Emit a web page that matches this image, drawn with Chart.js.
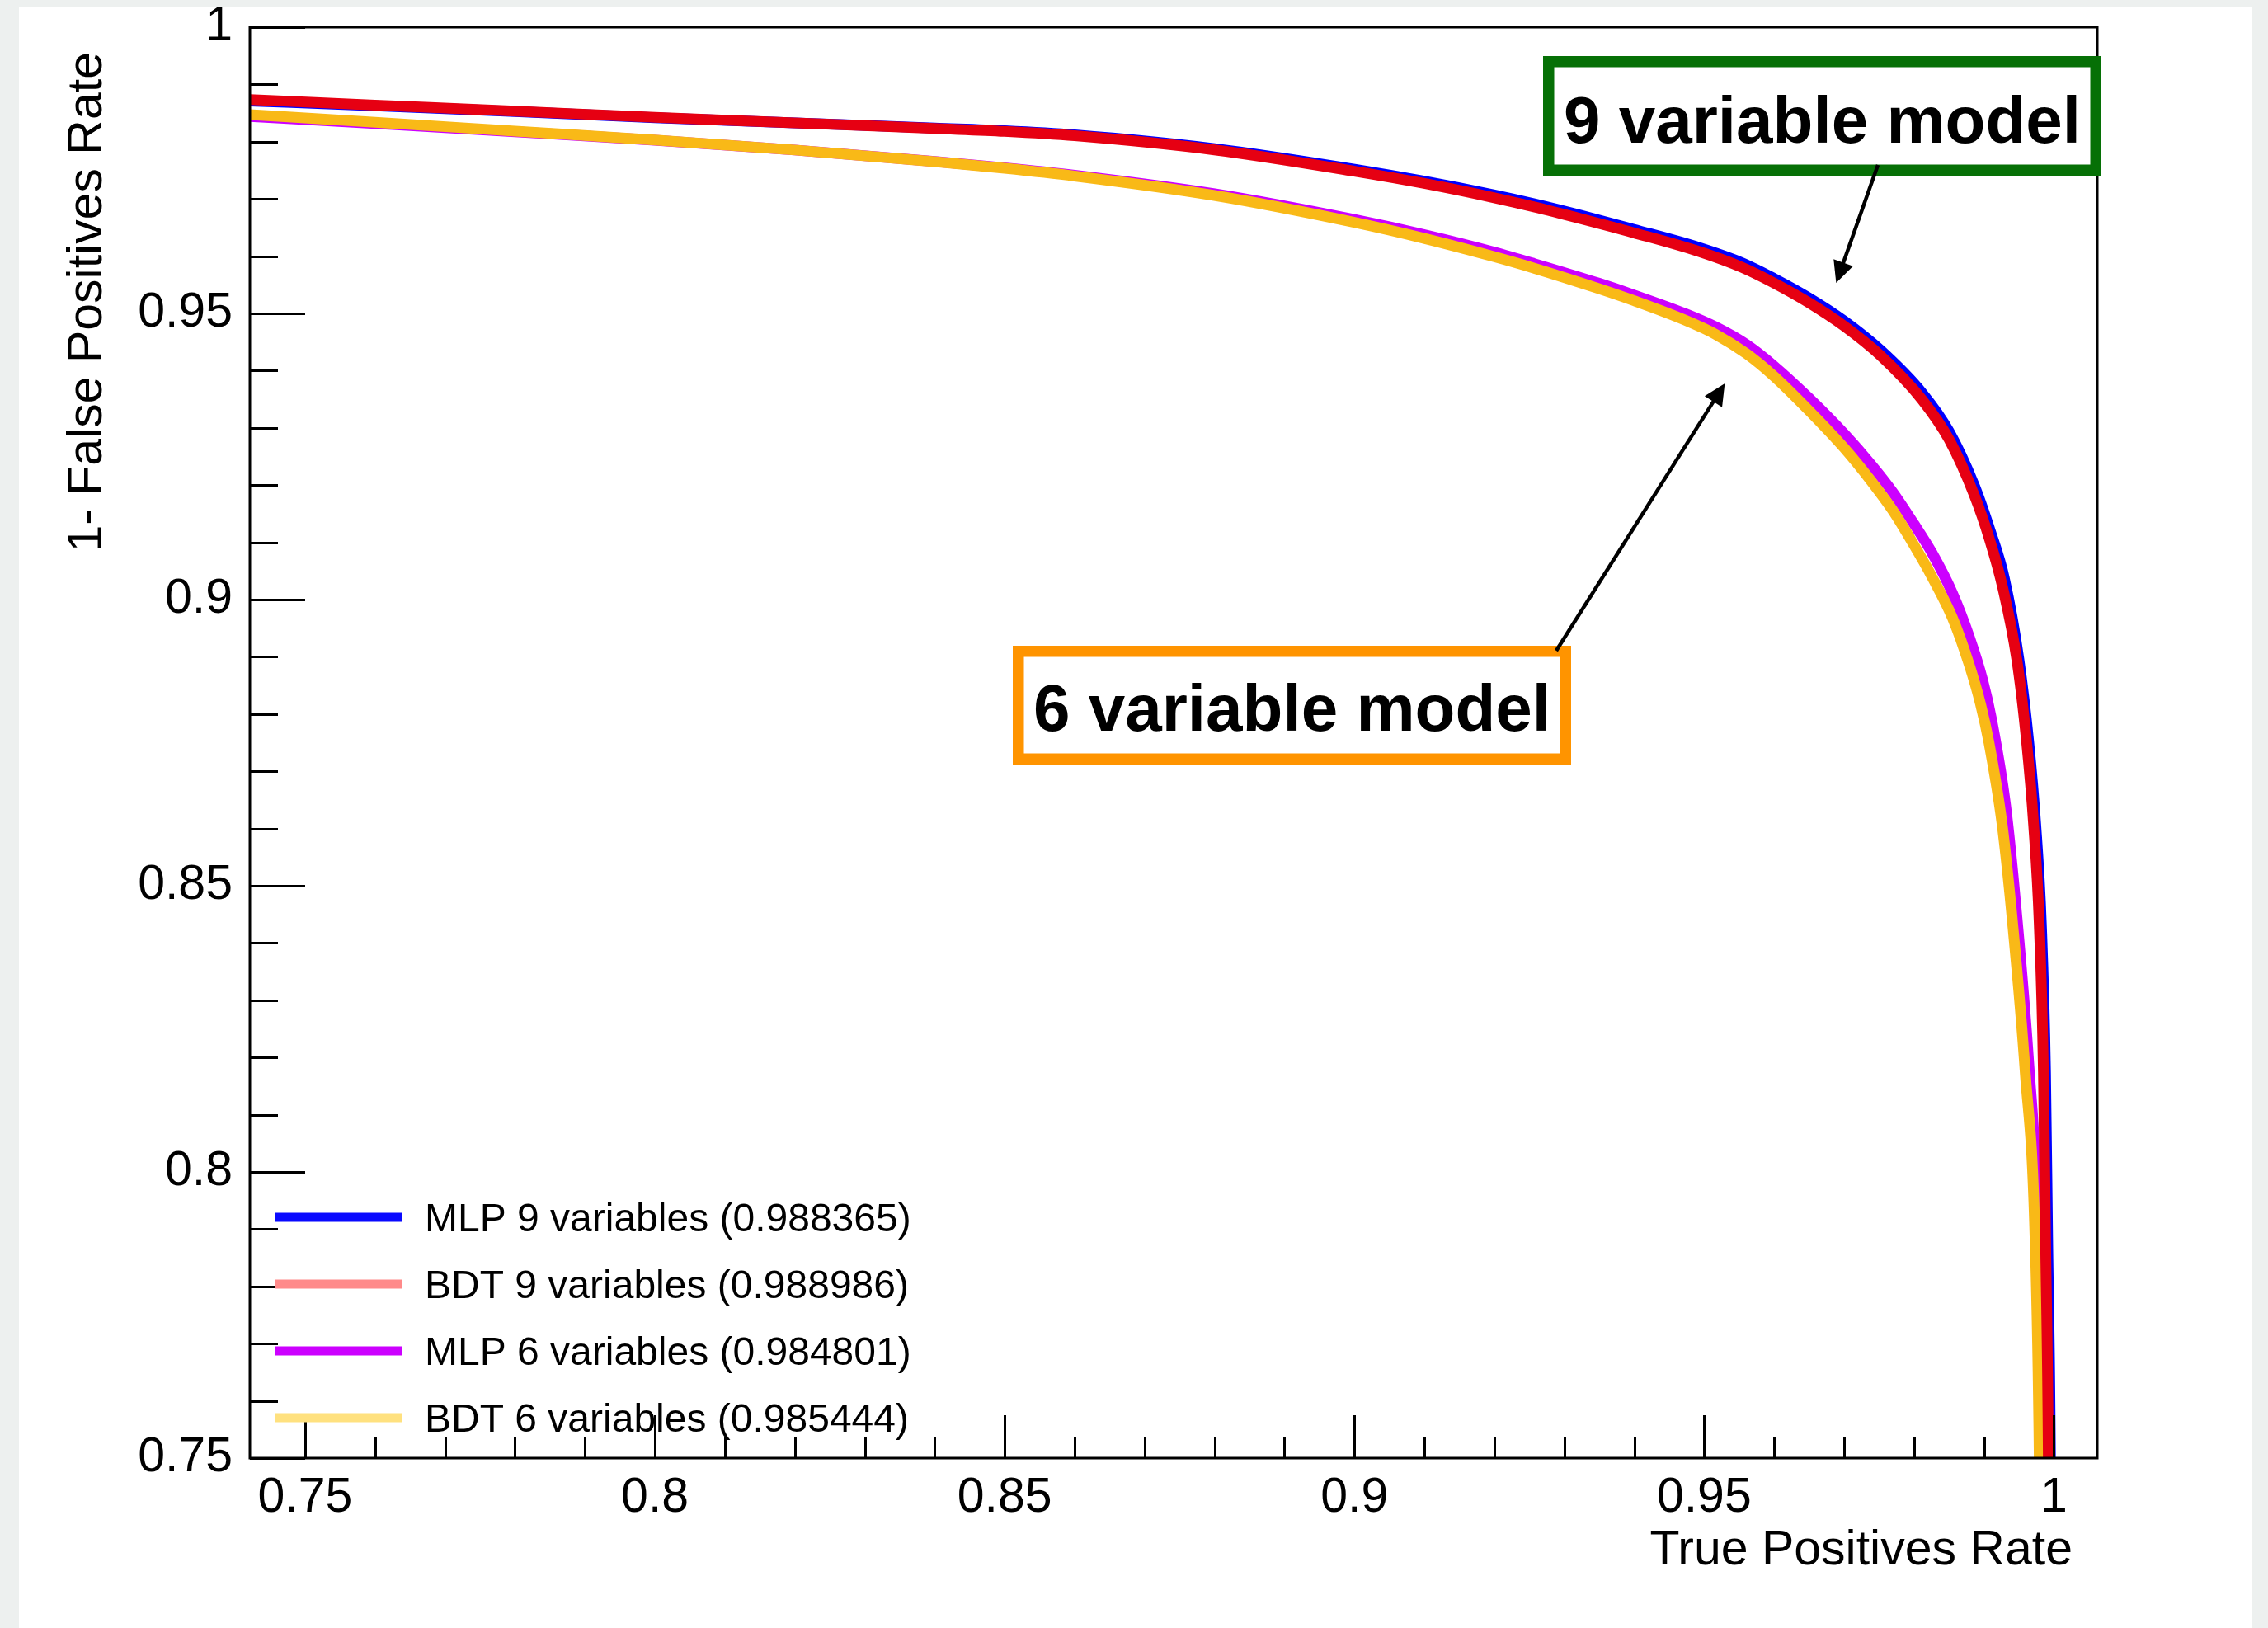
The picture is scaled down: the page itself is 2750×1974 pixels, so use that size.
<!DOCTYPE html>
<html>
<head>
<meta charset="utf-8">
<title>ROC curves</title>
<script src="https://cdn.jsdelivr.net/npm/chart.js@4.4.1/dist/chart.umd.min.js"></script>
<style>
  html, body { margin: 0; padding: 0; background: #edf0ef; }
  canvas { display: block; }
</style>
</head>
<body>
<canvas id="roc" width="2750" height="1974"></canvas>
<script>
// Axis ticks
const xTickValues = [0.75, 0.8, 0.85, 0.9, 0.95, 1];
const xTickLabels = ['0.75', '0.8', '0.85', '0.9', '0.95', '1'];
const yTickValues = [0.75, 0.8, 0.85, 0.9, 0.95, 1];
const yTickLabels = ['0.75', '0.8', '0.85', '0.9', '0.95', '1'];

// Series names (with ROC integral) and legend swatch colours
const seriesNames = [
  'MLP 9 variables (0.988365)',
  'BDT 9 variables (0.988986)',
  'MLP 6 variables (0.984801)',
  'BDT 6 variables (0.985444)'
];
const lineColors   = ['#0000ff', '#e60012', '#cc00ff', '#f9b917'];
const legendColors = ['#0a0aff', '#ff8a8a', '#cc00ff', '#ffe17f'];

// MLP, 9 input variables: true positive rate vs 1 - false positive rate
const mlp9Tpr = [0.7421, 0.76, 0.78, 0.80, 0.82, 0.84, 0.85, 0.86, 0.88, 0.90, 0.91, 0.92, 0.9257, 0.9325, 0.9399, 0.9493, 0.9555, 0.9600, 0.9650, 0.9700, 0.9752, 0.9811, 0.9850, 0.9886, 0.9909, 0.9929, 0.9950, 0.9964, 0.9974, 0.9982, 0.9988, 0.9991, 0.9995, 0.9997];
const mlp9Rej = [0.98712, 0.98628, 0.98528, 0.98420, 0.98330, 0.98238, 0.98192, 0.98120, 0.97880, 0.97520, 0.97310, 0.97070, 0.96915, 0.96710, 0.96470, 0.96150, 0.95880, 0.95610, 0.95270, 0.94870, 0.94360, 0.93620, 0.92940, 0.92000, 0.91200, 0.90380, 0.88950, 0.87510, 0.86070, 0.84340, 0.81740, 0.78860, 0.75000, 0.70000];

// BDT, 9 input variables
const bdt9Tpr = [0.7421, 0.76, 0.78, 0.80, 0.82, 0.84, 0.85, 0.86, 0.88, 0.90, 0.91, 0.92, 0.9257, 0.9325, 0.9399, 0.9493, 0.9555, 0.9600, 0.9650, 0.9700, 0.9752, 0.9811, 0.9850, 0.9886, 0.9908, 0.9927, 0.9947, 0.9961, 0.9971, 0.9979, 0.9985, 0.9988, 0.9992, 0.9994];
const bdt9Rej = [0.98735, 0.98640, 0.98535, 0.98425, 0.98330, 0.98230, 0.98180, 0.98104, 0.97857, 0.97484, 0.97270, 0.97020, 0.96860, 0.96650, 0.96410, 0.96080, 0.95800, 0.95530, 0.95185, 0.94780, 0.94265, 0.93500, 0.92800, 0.91830, 0.91050, 0.90200, 0.88950, 0.87510, 0.86070, 0.84340, 0.81740, 0.78860, 0.75000, 0.70000];

// MLP, 6 input variables
const mlp6Tpr = [0.7421, 0.76, 0.78, 0.80, 0.82, 0.84, 0.85, 0.86, 0.88, 0.90, 0.91, 0.92, 0.9257, 0.9350, 0.9400, 0.9473, 0.9517, 0.9560, 0.9600, 0.9650, 0.9700, 0.9740, 0.9770, 0.9800, 0.9826, 0.9855, 0.9879, 0.9898, 0.9911, 0.9931, 0.9946, 0.9964, 0.9978, 0.9985, 0.9988];
const mlp6Rej = [0.98440, 0.98318, 0.98175, 0.98025, 0.97855, 0.97655, 0.97545, 0.97415, 0.97090, 0.96640, 0.96375, 0.96070, 0.95870, 0.95525, 0.95320, 0.94995, 0.94760, 0.94460, 0.94080, 0.93520, 0.92900, 0.92340, 0.91870, 0.91320, 0.90810, 0.90110, 0.89350, 0.88600, 0.87900, 0.86400, 0.84600, 0.81900, 0.78860, 0.75000, 0.70000];

// BDT, 6 input variables
const bdt6Tpr = [0.7421, 0.76, 0.78, 0.80, 0.82, 0.84, 0.85, 0.86, 0.88, 0.90, 0.91, 0.92, 0.9257, 0.9350, 0.9400, 0.9473, 0.9517, 0.9560, 0.9600, 0.9650, 0.9700, 0.9740, 0.9770, 0.9800, 0.9826, 0.9855, 0.9879, 0.9895, 0.9907, 0.9926, 0.9941, 0.9959, 0.9973, 0.9979, 0.9982];
const bdt6Rej = [0.98473, 0.98340, 0.98185, 0.98030, 0.97855, 0.97650, 0.97535, 0.97400, 0.97060, 0.96590, 0.96310, 0.95990, 0.95790, 0.95430, 0.95220, 0.94880, 0.94630, 0.94300, 0.93900, 0.93300, 0.92650, 0.92050, 0.91550, 0.90950, 0.90390, 0.89680, 0.88860, 0.88180, 0.87510, 0.86070, 0.84340, 0.81740, 0.78860, 0.75000, 0.70000];

const xTitle = 'True Positives Rate';
const yTitle = '1- False Positives Rate';

function toPoints(xs, ys) { return xs.map((x, i) => ({ x: x, y: ys[i] })); }

const FONT = '"Liberation Sans", Arial, Helvetica, sans-serif';

// Frame, inward ticks, axis titles, legend and call-out boxes in ROOT style
const rootStyle = {
  id: 'rootStyle',
  beforeDraw(chart) {
    const ctx = chart.ctx;
    ctx.save();
    ctx.fillStyle = '#edf0ef';
    ctx.fillRect(0, 0, chart.width, chart.height);
    ctx.fillStyle = '#ffffff';
    ctx.fillRect(23, 9, 2708, chart.height - 9);
    ctx.restore();
  },
  afterDatasetsDraw(chart) {
    const ctx = chart.ctx;
    const a = chart.chartArea;
    const xs = chart.scales.x, ys = chart.scales.y;
    ctx.save();

    // plot frame
    ctx.strokeStyle = '#000';
    ctx.lineWidth = 3;
    ctx.strokeRect(a.left, a.top, a.right - a.left, a.bottom - a.top);

    // ticks drawn inward from the axes
    ctx.lineWidth = 3;
    ctx.beginPath();
    for (let i = 0; i <= 25; i++) {
      const v = 0.75 + i * 0.01;
      const major = i % 5 === 0;
      const py = Math.round(ys.getPixelForValue(v)) + 0.5;
      ctx.moveTo(a.left, py);
      ctx.lineTo(a.left + (major ? 67 : 34), py);
      const px = Math.round(xs.getPixelForValue(v)) + 0.5;
      if (v <= xs.max) {
        ctx.moveTo(px, a.bottom);
        ctx.lineTo(px, a.bottom - (major ? 52 : 26));
      }
    }
    ctx.stroke();

    // legend
    ctx.font = '48px ' + FONT;
    ctx.textAlign = 'left';
    ctx.textBaseline = 'alphabetic';
    const rowY = [1476, 1557, 1638, 1719];
    seriesNames.forEach((name, i) => {
      ctx.strokeStyle = legendColors[i];
      ctx.lineWidth = 11;
      ctx.lineCap = 'butt';
      ctx.beginPath();
      ctx.moveTo(334, rowY[i]);
      ctx.lineTo(487, rowY[i]);
      ctx.stroke();
      ctx.fillStyle = '#000';
      ctx.fillText(name, 515, rowY[i] + 17);
    });

    // call-out boxes with arrows
    const callouts = [
      { text: '9 variable model', color: '#067006', box: [1871, 68, 2548, 213], base: 173,
        from: [2277, 200], to: { x: 0.96887, y: 0.95533 } },
      { text: '6 variable model', color: '#ff9400', box: [1228, 783, 1905, 927], base: 886,
        from: [1887, 789], to: { x: 0.95295, y: 0.93775 } }
    ];
    callouts.forEach(c => {
      const [x0, y0, x1, y1] = c.box;
      const bw = 13.5;
      ctx.fillStyle = '#ffffff';
      ctx.fillRect(x0, y0, x1 - x0, y1 - y0);
      ctx.strokeStyle = c.color;
      ctx.lineWidth = bw;
      ctx.strokeRect(x0 + bw / 2, y0 + bw / 2, x1 - x0 - bw, y1 - y0 - bw);
      ctx.fillStyle = '#000';
      ctx.font = 'bold 80px ' + FONT;
      ctx.textAlign = 'center';
      ctx.fillText(c.text, (x0 + x1) / 2, c.base);

      // arrow
      const tx = xs.getPixelForValue(c.to.x), ty = ys.getPixelForValue(c.to.y);
      const [sx, sy] = c.from;
      const dx = tx - sx, dy = ty - sy, len = Math.hypot(dx, dy);
      const ux = dx / len, uy = dy / len;
      const headL = 26, headW = 12.5;
      ctx.strokeStyle = '#000';
      ctx.lineWidth = 4.5;
      ctx.beginPath();
      ctx.moveTo(sx, sy);
      ctx.lineTo(tx - ux * headL * 0.8, ty - uy * headL * 0.8);
      ctx.stroke();
      ctx.fillStyle = '#000';
      ctx.beginPath();
      ctx.moveTo(tx, ty);
      ctx.lineTo(tx - ux * headL - uy * headW, ty - uy * headL + ux * headW);
      ctx.lineTo(tx - ux * headL + uy * headW, ty - uy * headL - ux * headW);
      ctx.closePath();
      ctx.fill();
    });
    ctx.restore();
  },
  afterDraw(chart) {
    const ctx = chart.ctx;
    ctx.save();
    ctx.fillStyle = '#000';
    ctx.font = '59px ' + FONT;
    ctx.textBaseline = 'alphabetic';
    ctx.textAlign = 'right';
    ctx.fillText(xTitle, 2513, 1897);
    ctx.translate(123, 63);
    ctx.rotate(-Math.PI / 2);
    ctx.fillText(yTitle, 0, 0);
    ctx.restore();
  }
};

const tickFont = { family: FONT, size: 59, lineHeight: 1 };

new Chart(document.getElementById('roc'), {
  type: 'scatter',
  data: {
    datasets: [
      { label: seriesNames[1], data: toPoints(bdt9Tpr, bdt9Rej), borderColor: lineColors[1], order: 1 },
      { label: seriesNames[0], data: toPoints(mlp9Tpr, mlp9Rej), borderColor: lineColors[0], order: 2 },
      { label: seriesNames[3], data: toPoints(bdt6Tpr, bdt6Rej), borderColor: lineColors[3], order: 3 },
      { label: seriesNames[2], data: toPoints(mlp6Tpr, mlp6Rej), borderColor: lineColors[2], order: 4 }
    ].map(d => Object.assign(d, {
      showLine: true, pointRadius: 0, borderWidth: 13, cubicInterpolationMode: 'monotone',
      borderJoinStyle: 'round', borderCapStyle: 'butt', fill: false
    }))
  },
  options: {
    responsive: false,
    animation: false,
    events: [],
    layout: { padding: { top: 33, right: 207, left: 0, bottom: 0 } },
    plugins: { legend: { display: false }, tooltip: { enabled: false }, title: { display: false } },
    scales: {
      x: {
        type: 'linear', min: 0.7421, max: 1.0062,
        grid: { display: false, drawTicks: false }, border: { display: false },
        afterBuildTicks(s) { s.ticks = xTickValues.map(v => ({ value: v })); },
        ticks: { callback: (v, i) => xTickLabels[i], font: tickFont, color: '#000', padding: 19, maxRotation: 0, autoSkip: false },
        afterFit(s) { s.height = 206; s.paddingLeft = 0; s.paddingRight = 0; }
      },
      y: {
        type: 'linear', min: 0.75, max: 1,
        grid: { display: false, drawTicks: false }, border: { display: false },
        afterBuildTicks(s) { s.ticks = yTickValues.map(v => ({ value: v })); },
        ticks: { callback: (v, i) => yTickLabels[i], font: tickFont, color: '#000', padding: 21, autoSkip: false },
        afterFit(s) { s.width = 303; s.paddingTop = 0; s.paddingBottom = 0; }
      }
    }
  },
  plugins: [rootStyle]
});
</script>
</body>
</html>
